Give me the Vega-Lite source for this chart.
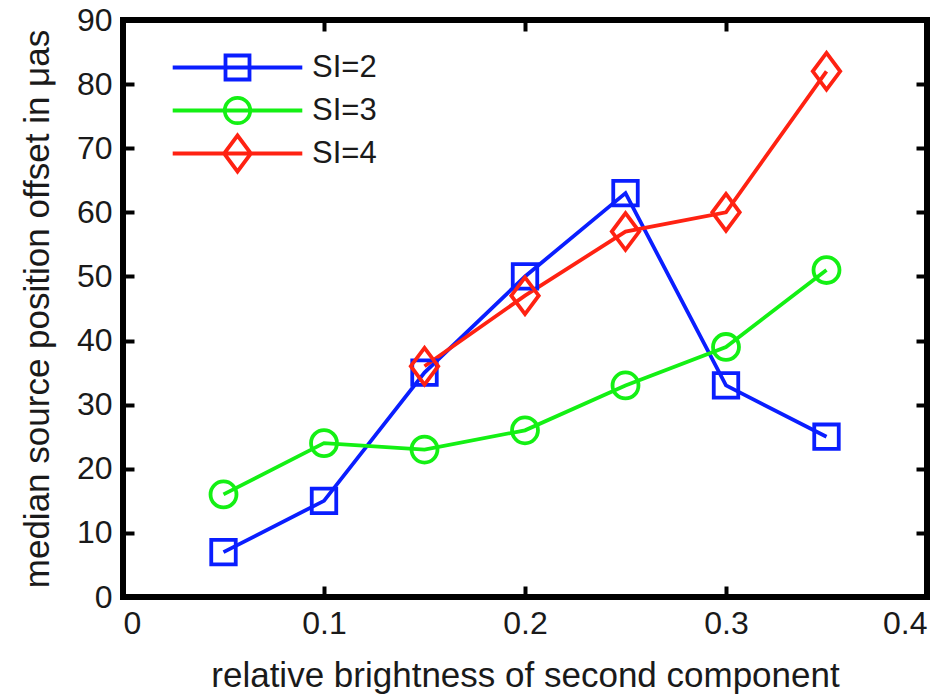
{
  "$schema": "https://vega.github.io/schema/vega-lite/v6.json",
  "width": 804,
  "height": 577,
  "autosize": {"type": "none"},
  "padding": {"left": 123, "top": 20, "right": 25, "bottom": 102},
  "background": "white",
  "config": {
    "font": "Liberation Sans",
    "view": {"stroke": null},
    "axis": {
      "domain": false,
      "grid": false,
      "zindex": 2,
      "tickSize": 11,
      "tickWidth": 4,
      "tickColor": "black",
      "labelFont": "Liberation Sans",
      "labelFontSize": 32,
      "labelColor": "#1a1a1a",
      "titleFont": "Liberation Sans",
      "titleFontSize": 35,
      "titleFontWeight": "normal",
      "titleColor": "#1a1a1a"
    }
  },
  "data": {
    "values": [
      {"x": 0.05, "y": 7, "series": "SI=2"},
      {"x": 0.10, "y": 15, "series": "SI=2"},
      {"x": 0.15, "y": 35, "series": "SI=2"},
      {"x": 0.20, "y": 50, "series": "SI=2"},
      {"x": 0.25, "y": 63, "series": "SI=2"},
      {"x": 0.30, "y": 33, "series": "SI=2"},
      {"x": 0.35, "y": 25, "series": "SI=2"},
      {"x": 0.05, "y": 16, "series": "SI=3"},
      {"x": 0.10, "y": 24, "series": "SI=3"},
      {"x": 0.15, "y": 23, "series": "SI=3"},
      {"x": 0.20, "y": 26, "series": "SI=3"},
      {"x": 0.25, "y": 33, "series": "SI=3"},
      {"x": 0.30, "y": 39, "series": "SI=3"},
      {"x": 0.35, "y": 51, "series": "SI=3"},
      {"x": 0.15, "y": 36, "series": "SI=4"},
      {"x": 0.20, "y": 47, "series": "SI=4"},
      {"x": 0.25, "y": 57, "series": "SI=4"},
      {"x": 0.30, "y": 60, "series": "SI=4"},
      {"x": 0.35, "y": 82, "series": "SI=4"}
    ]
  },
  "layer": [
    {
      "mark": {"type": "line", "strokeWidth": 3.8},
      "encoding": {
        "x": {"field": "x", "type": "quantitative", "scale": {"domain": [0, 0.4], "nice": false, "zero": false}, "axis": {"orient": "bottom", "values": [0, 0.1, 0.2, 0.3, 0.4], "format": "~g", "offset": -11, "labelPadding": 11, "title": "relative brightness of second component", "titlePadding": 19}},
        "y": {"field": "y", "type": "quantitative", "scale": {"domain": [0, 90], "nice": false}, "axis": {"orient": "left", "values": [0, 10, 20, 30, 40, 50, 60, 70, 80, 90], "offset": -11, "labelPadding": 11, "title": "median source position offset in μas", "titlePadding": 21}},
        "color": {"field": "series", "type": "nominal", "scale": {"domain": ["SI=2", "SI=3", "SI=4"], "range": ["#0a1eff", "#14f014", "#ff2212"]}, "legend": null}
      }
    },
    {
      "mark": {"type": "point", "filled": false, "strokeWidth": 3.8, "size": 600, "opacity": 1},
      "encoding": {
        "x": {"field": "x", "type": "quantitative", "axis": null},
        "y": {"field": "y", "type": "quantitative", "axis": null},
        "color": {"field": "series", "type": "nominal", "legend": null},
        "shape": {"field": "series", "type": "nominal", "scale": {"domain": ["SI=2", "SI=3", "SI=4"], "range": ["square", "M1.06,0A1.06,1.06 0 1,1 -1.06,0A1.06,1.06 0 1,1 1.06,0Z", "M0,-1.5L1.12,0L0,1.5L-1.12,0Z"]}, "legend": null}
      }
    },
    {
      "mark": {"type": "point", "filled": false, "strokeWidth": 3.8, "size": 576, "opacity": 0},
      "encoding": {
        "x": {"field": "x", "type": "quantitative", "axis": {"orient": "top", "values": [0.1, 0.2, 0.3], "offset": -11, "labels": false, "title": null}},
        "y": {"field": "y", "type": "quantitative", "axis": {"orient": "right", "values": [10, 20, 30, 40, 50, 60, 70, 80], "offset": -11, "labels": false, "title": null}},
        "color": {"field": "series", "type": "nominal", "legend": {
          "title": null,
          "orient": "none",
          "legendX": 99,
          "legendY": 32,
          "padding": 0,
          "symbolSize": 576,
          "symbolStrokeWidth": 3.8,
          "symbolOpacity": 1,
          "labelFontSize": 31,
          "labelFont": "Liberation Sans",
          "labelColor": "#1a1a1a",
          "labelOffset": 59,
          "rowPadding": -16
        }},
        "shape": {"field": "series", "type": "nominal", "scale": {"domain": ["SI=2", "SI=3", "SI=4"], "range": ["M0,-1.6M0,1.6M-5.4,0H5.4M-1,-1H1V1H-1Z", "M0,-1.6M0,1.6M-5.4,0H5.4M1.06,0A1.06,1.06 0 1,1 -1.06,0A1.06,1.06 0 1,1 1.06,0Z", "M0,-1.6M0,1.6M-5.4,0H5.4M0,-1.5L1.12,0L0,1.5L-1.12,0Z"]}, "legend": {
          "title": null,
          "orient": "none",
          "legendX": 99,
          "legendY": 32,
          "padding": 0,
          "symbolSize": 576,
          "symbolStrokeWidth": 3.8,
          "symbolOpacity": 1,
          "labelFontSize": 31,
          "labelFont": "Liberation Sans",
          "labelColor": "#1a1a1a",
          "labelOffset": 59,
          "rowPadding": -16
        }}
      }
    },
    {
      "mark": {"type": "rect", "fill": null, "stroke": "black", "strokeWidth": 5},
      "encoding": {
        "x": {"datum": 0, "type": "quantitative", "axis": null},
        "x2": {"datum": 0.4},
        "y": {"datum": 0, "type": "quantitative", "axis": null},
        "y2": {"datum": 90}
      }
    }
  ],
  "resolve": {
    "axis": {"x": "independent", "y": "independent"},
    "scale": {"shape": "independent"},
    "legend": {"color": "independent", "shape": "independent"}
  }
}
